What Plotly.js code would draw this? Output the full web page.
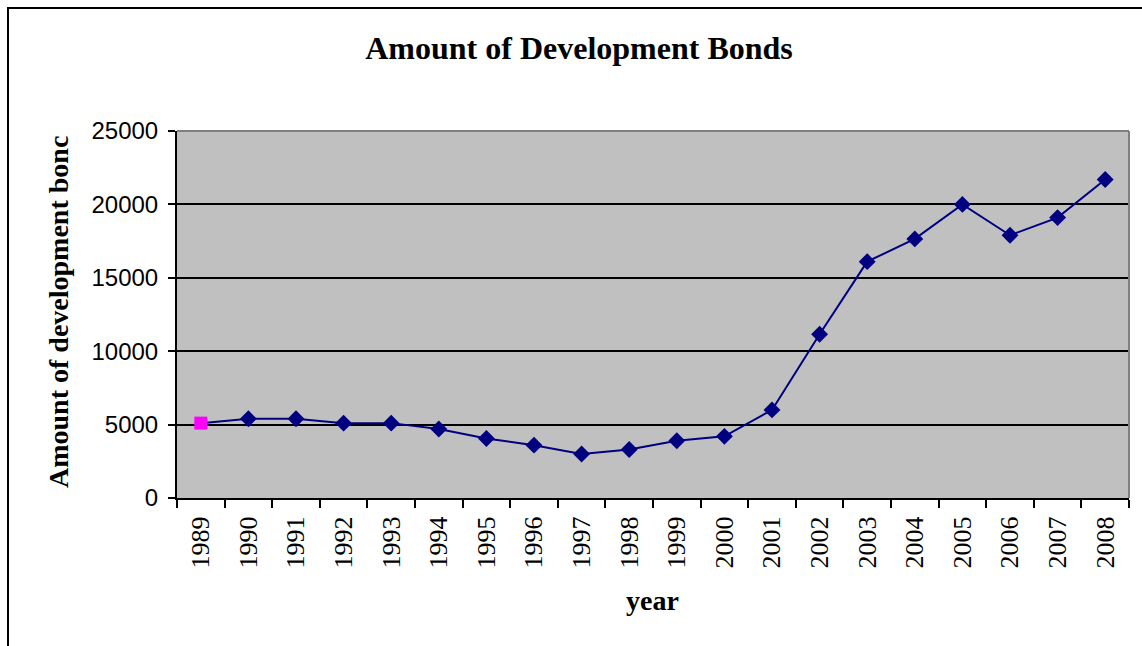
<!DOCTYPE html>
<html>
<head>
<meta charset="utf-8">
<script src="https://cdn.plot.ly/plotly-3.0.1.min.js"></script>
<style>html,body{margin:0;padding:0;background:#fff;}#chart{width:1142px;height:646px;}</style>
</head>
<body>
<div id="chart"></div>
<script>
const years = ['1989','1990','1991','1992','1993','1994','1995','1996','1997','1998','1999','2000','2001','2002','2003','2004','2005','2006','2007','2008'];
const bonds = [5100,5400,5400,5100,5100,4700,4050,3600,3000,3300,3900,4200,6000,11150,16100,17650,20000,17900,19100,21700];
const titleText = 'Amount of Development Bonds';
const xTitle = 'year';
const yTitle = 'Amount of development bonc';

const symbols = years.map((y,i) => i === 0 ? 'square' : 'diamond');
const colors = years.map((y,i) => i === 0 ? '#FF00FF' : '#000080');

const trace = {
  x: years, y: bonds, type: 'scatter', mode: 'lines+markers',
  line: {color: '#000080', width: 2},
  marker: {symbol: symbols, color: colors, size: 13, opacity: 1, line: {width: 0}},
  cliponaxis: false
};

const L = 177, R = 1129, T = 131, B = 498, W = 1142, H = 646;
const px = v => (v - L) / (R - L);
const py = v => (B - v) / (B - T);

const layout = {
  width: W, height: H,
  margin: {l: L, r: W - R, t: T, b: H - B, pad: 0},
  paper_bgcolor: '#ffffff',
  plot_bgcolor: '#C0C0C0',
  showlegend: false,
  title: {text: '<b>' + titleText + '</b>', font: {family: 'Liberation Serif', size: 32, color: '#000'}, x: px(579), xref: 'paper', xanchor: 'center', y: 1 - 48/H, yanchor: 'middle'},
  xaxis: {
    type: 'category', range: [-0.5, 19.5],
    showline: true, linecolor: '#000', linewidth: 2,
    ticks: 'outside', tickson: 'boundaries', ticklen: 8, tickwidth: 2, tickcolor: '#000',
    tickangle: -90, ticklabelstandoff: 6, tickfont: {family: 'Liberation Serif', size: 26, color: '#000'},
    showgrid: false, zeroline: false
  },
  yaxis: {
    range: [0, 25000], tickvals: [0,5000,10000,15000,20000,25000], ticktext: ['0','5000','10000','15000','20000','25000'],
    showline: true, linecolor: '#000', linewidth: 2,
    ticks: 'outside', ticklen: 7, tickwidth: 2, tickcolor: '#000',
    ticklabelstandoff: 5, tickfont: {family: 'Liberation Sans', size: 24, color: '#000'},
    showgrid: true, gridcolor: '#000', gridwidth: 2, zeroline: false
  },
  annotations: [
    {text: '<b>' + xTitle + '</b>', xref: 'paper', yref: 'paper', x: px(652), y: py(600), xanchor: 'center', yanchor: 'middle', showarrow: false, font: {family: 'Liberation Serif', size: 28, color: '#000'}},
    {text: '<b>' + yTitle + '</b>', xref: 'paper', yref: 'paper', x: px(58), y: py(312), xanchor: 'center', yanchor: 'middle', textangle: -90, showarrow: false, font: {family: 'Liberation Serif', size: 28, color: '#000'}}
  ],
  shapes: [
    {type: 'line', xref: 'paper', yref: 'paper', x0: 0, x1: 1, y0: 1, y1: 1, line: {color: '#808080', width: 2}},
    {type: 'line', xref: 'paper', yref: 'paper', x0: 1, x1: 1, y0: 0, y1: 1, line: {color: '#808080', width: 2}},
    {type: 'rect', xref: 'paper', yref: 'paper', x0: px(8), x1: px(1160), y0: py(700), y1: py(8), line: {color: '#000', width: 2}, fillcolor: 'rgba(0,0,0,0)', layer: 'above'}
  ]
};

Plotly.newPlot('chart', [trace], layout, {displayModeBar: false, staticPlot: true});
</script>
</body>
</html>
